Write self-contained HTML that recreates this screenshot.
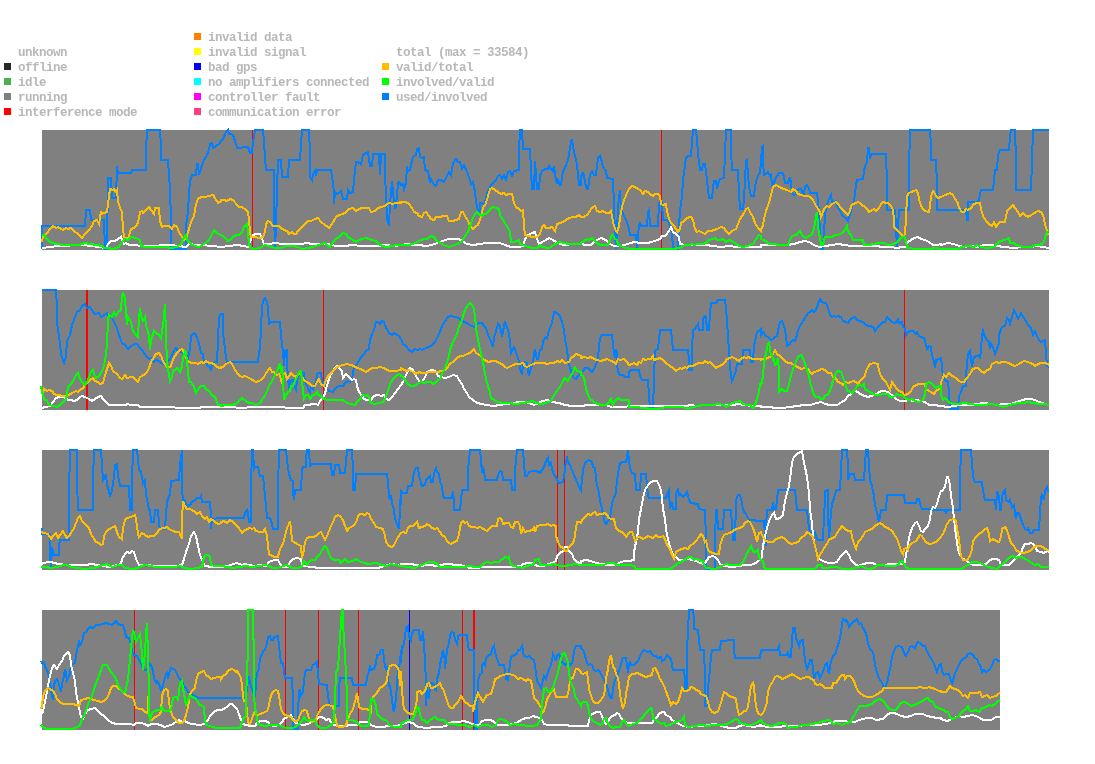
<!DOCTYPE html>
<html lang="en"><head><meta charset="utf-8"><title>status</title>
<style>
html,body{margin:0;padding:0;background:#fff;}
body{width:1095px;height:764px;position:relative;overflow:hidden;font-family:"Liberation Mono",monospace;}
.lg{position:absolute;left:0;top:0;width:1095px;height:125px;will-change:transform;}
.sq{position:absolute;width:7px;height:7px;}
.t{position:absolute;font:bold 12.5px/15px "Liberation Mono",monospace;color:#b8b8b8;white-space:pre;letter-spacing:-0.5px;}
svg{position:absolute;left:0;top:0;}
polyline{fill:none;stroke-width:2;stroke-linejoin:miter;stroke-linecap:butt;}
</style></head><body>
<div class="lg">
<span class="t" style="left:18px;top:46px">unknown</span>
<span class="sq" style="left:4px;top:63px;background:#282828"></span><span class="t" style="left:18px;top:61px">offline</span>
<span class="sq" style="left:4px;top:78px;background:#4caf50"></span><span class="t" style="left:18px;top:76px">idle</span>
<span class="sq" style="left:4px;top:93px;background:#808080"></span><span class="t" style="left:18px;top:91px">running</span>
<span class="sq" style="left:4px;top:108px;background:#ff0000"></span><span class="t" style="left:18px;top:106px">interference mode</span>
<span class="sq" style="left:194px;top:33px;background:#ff8000"></span><span class="t" style="left:208px;top:31px">invalid data</span>
<span class="sq" style="left:194px;top:48px;background:#ffff00"></span><span class="t" style="left:208px;top:46px">invalid signal</span>
<span class="sq" style="left:194px;top:63px;background:#0000ff"></span><span class="t" style="left:208px;top:61px">bad gps</span>
<span class="sq" style="left:194px;top:78px;background:#00ffff"></span><span class="t" style="left:208px;top:76px">no amplifiers connected</span>
<span class="sq" style="left:194px;top:93px;background:#ff00ff"></span><span class="t" style="left:208px;top:91px">controller fault</span>
<span class="sq" style="left:194px;top:108px;background:#ff4080"></span><span class="t" style="left:208px;top:106px">communication error</span>
<span class="t" style="left:396px;top:46px">total (max = 33584)</span>
<span class="sq" style="left:382px;top:63px;background:#ffbe00"></span><span class="t" style="left:396px;top:61px">valid/total</span>
<span class="sq" style="left:382px;top:78px;background:#00ff00"></span><span class="t" style="left:396px;top:76px">involved/valid</span>
<span class="sq" style="left:382px;top:93px;background:#0080ff"></span><span class="t" style="left:396px;top:91px">used/involved</span>
</div>
<svg width="1095" height="764" viewBox="0 0 1095 764" shape-rendering="crispEdges">
<rect x="42" y="130" width="1007" height="120" fill="#808080"/>
<rect x="252" y="130" width="1" height="120" fill="#ff0000"/>
<rect x="661" y="130" width="1" height="120" fill="#ff0000"/>
<polyline stroke="#0080ff" points="42,249 42,226 85,226 86,210 90,210 91,220 104,220 105,249 107,249 108,178 111,178 112,198 116,198 117,166 118,173 131,173 132,170 146,170 146,150 147,130 160,130 161,145 161,160 168,160 169,175 170,189 171,221 171,249 186,249 186,226 188,212 189,193 190,181 192,175 196,175 197,164 198,164 199,175 201,168 204,160 206,157 209,150 210,144 212,143 213,148 215,147 217,145 219,144 221,141 221,141 223,139 226,132 228,130 229,134 231,134 233,135 235,141 237,148 248,147 250,153 252,153 253,142 255,130 263,130 264,142 265,157 266,170 274,170 274,209 275,249 276,226 277,189 278,160 281,160 282,177 288,177 289,160 300,160 301,145 302,130 309,130 310,153 310,177 312,180 313,174 315,171 316,176 317,170 331,170 332,176 334,192 334,204 335,192 337,194 339,193 341,191 343,199 347,199 348,190 350,193 353,192 354,180 356,162 358,162 361,164 363,155 366,153 368,152 370,166 372,166 373,154 379,154 380,175 381,154 385,154 385,173 387,219 389,226 390,204 392,181 393,193 395,209 396,206 398,183 399,182 401,185 401,185 403,184 404,189 406,183 407,166 408,171 410,170 412,160 414,156 416,155 417,149 419,148 420,157 422,158 424,157 425,170 428,171 430,183 431,179 434,185 436,186 438,180 441,180 444,182 447,176 449,172 451,175 453,163 456,159 458,162 460,162 462,169 464,165 467,172 469,177 471,184 473,182 475,192 476,201 478,211 480,212 480,203 482,203 484,205 486,199 487,193 489,189 491,185 493,183 496,180 498,176 500,175 502,179 504,175 506,180 508,172 510,171 512,176 514,171 519,170 519,150 520,130 522,130 523,149 530,149 531,171 532,189 534,189 535,161 537,189 539,189 540,176 542,171 545,169 548,169 549,166 551,169 553,171 554,166 556,180 557,184 558,180 560,185 561,185 563,171 565,168 568,160 569,154 571,142 572,139 573,147 575,156 577,164 578,175 579,185 581,185 581,176 583,173 584,175 585,183 587,189 588,189 590,175 592,171 594,175 596,175 597,166 598,158 600,156 602,162 603,167 606,171 607,178 613,179 614,206 615,232 616,249 617,232 618,206 620,190 620,199 622,211 624,216 627,222 629,229 630,235 636,235 637,249 638,235 639,226 640,222 641,226 647,226 648,212 649,210 650,226 658,226 659,203 662,202 663,220 668,220 670,226 672,232 673,249 678,249 679,226 680,211 682,196 683,180 685,165 686,158 688,156 691,156 692,143 693,130 696,130 697,140 698,153 699,162 700,170 702,170 703,164 705,164 706,171 707,180 708,189 709,198 712,198 713,188 714,181 716,181 717,189 718,184 720,179 724,178 725,154 726,130 731,130 731,150 732,170 738,170 739,193 740,209 743,209 744,199 745,180 746,161 747,160 748,175 749,186 751,196 754,196 755,186 757,178 759,174 760,173 761,161 761,161 762,147 763,146 763,162 764,175 766,174 768,172 770,176 771,175 772,185 774,183 776,177 777,176 779,173 782,173 784,176 785,183 788,183 790,177 791,183 792,193 794,195 796,194 797,190 800,189 801,189 803,194 804,194 805,187 807,185 809,189 810,193 817,193 818,201 819,212 820,232 821,249 823,249 824,232 825,216 826,208 828,201 829,199 831,195 832,203 834,202 836,201 837,206 840,211 842,215 844,217 846,218 848,221 849,217 851,212 852,206 854,201 855,193 856,185 857,180 863,179 864,171 865,166 867,162 868,148 869,148 870,159 871,154 886,154 887,183 887,210 895,210 896,226 897,249 898,226 899,210 909,210 909,170 910,130 930,130 931,145 931,160 936,160 937,185 937,210 941,210 941,210 966,210 967,220 968,220 968,202 978,202 979,199 981,190 993,190 994,180 995,170 997,170 998,155 1000,150 1009,150 1010,137 1011,130 1015,130 1016,160 1016,190 1031,190 1032,160 1033,130 1049,130"/>
<polyline stroke="#ffffff" points="42,248 51,247 57,246 66,246 74,245 84,245 90,246 99,247 106,248 108,244 111,241 115,241 118,239 121,237 122,240 124,244 126,243 129,245 133,245 143,246 156,246 163,245 171,245 179,246 186,247 189,244 196,245 202,245 212,246 221,247 221,247 229,246 237,245 244,246 248,247 250,242 252,236 255,234 260,234 262,239 264,244 269,244 275,243 283,244 292,244 302,244 306,243 313,244 320,244 328,244 336,246 344,246 353,245 361,246 369,246 379,246 385,245 394,246 401,245 401,245 408,244 414,245 419,245 426,246 432,245 437,243 442,241 449,239 454,239 459,239 462,241 467,244 473,245 480,244 486,243 493,243 500,243 505,245 511,247 519,247 523,246 525,239 528,235 532,233 535,232 537,239 539,244 542,242 546,240 549,238 553,240 556,242 560,244 565,245 574,244 581,244 581,244 586,245 591,245 594,242 597,240 601,238 604,239 607,241 610,244 614,246 620,246 625,245 630,243 635,242 640,243 647,243 652,242 657,240 660,239 662,236 665,236 667,234 670,229 671,227 673,232 676,234 679,237 680,244 686,245 693,245 699,245 706,245 713,246 721,247 729,246 737,247 745,247 754,247 761,247 761,245 768,245 774,245 781,245 787,245 794,244 800,242 805,241 809,242 814,245 819,247 825,246 832,245 838,244 845,245 851,246 860,246 868,246 876,246 883,247 891,247 897,248 902,247 906,247 908,242 911,240 914,238 918,237 921,239 925,240 929,242 933,245 937,245 941,244 941,245 948,243 954,244 959,246 964,247 971,246 977,247 984,245 991,245 997,246 1004,247 1014,248 1022,247 1030,247 1037,246 1043,247 1049,248"/>
<polyline stroke="#ffbe00" points="42,242 43,236 46,234 51,228 53,226 56,228 58,227 61,229 63,230 66,228 68,229 71,228 74,231 78,234 82,238 85,234 89,230 92,226 94,221 97,220 99,224 101,211 102,214 104,213 107,212 108,204 110,189 113,190 114,189 116,192 117,190 118,201 120,208 122,212 123,229 124,237 126,238 128,239 130,232 131,229 134,228 136,226 138,223 140,212 142,211 143,213 145,211 148,208 149,207 151,210 154,214 155,208 157,208 159,208 160,221 162,227 164,226 167,226 169,226 172,229 174,225 177,227 179,232 182,237 184,240 186,239 189,229 191,222 194,216 196,204 198,199 201,197 205,197 209,196 213,195 215,198 218,203 221,201 221,200 224,200 227,201 230,199 233,200 237,205 239,207 242,207 246,210 248,212 249,219 250,232 251,237 254,237 260,238 263,237 265,232 266,224 268,221 270,222 273,226 276,226 279,226 281,228 284,230 287,231 289,234 292,232 294,234 296,234 298,231 302,227 305,224 308,221 311,221 315,219 318,218 321,222 325,225 328,227 329,228 332,224 336,217 339,215 343,214 346,212 349,209 353,208 356,211 359,209 362,208 366,208 369,208 371,212 375,211 378,208 381,207 385,206 387,204 389,203 393,204 395,203 398,203 401,202 401,203 403,202 406,202 409,204 412,208 414,212 417,213 419,216 422,217 424,213 426,212 429,216 431,219 434,220 436,217 440,217 443,216 447,216 449,221 453,221 456,220 459,219 461,212 463,212 465,216 468,221 470,226 473,229 476,226 478,225 481,217 483,208 486,203 488,196 490,189 492,188 495,190 498,192 501,194 504,193 506,195 509,194 512,194 514,203 516,207 519,209 521,211 523,210 524,226 525,235 528,236 533,237 537,237 540,234 542,227 544,225 546,228 549,228 552,227 555,231 557,224 560,223 563,222 566,220 569,218 573,217 576,217 579,215 581,217 581,217 584,217 588,214 591,209 593,207 595,206 597,211 600,212 603,211 606,213 609,213 611,211 612,216 614,226 616,231 617,232 619,226 621,212 623,203 625,198 627,193 629,189 632,186 635,187 638,189 640,190 643,194 645,191 648,192 650,194 653,196 655,194 658,194 660,196 661,204 663,205 666,204 667,211 669,219 671,223 674,226 676,229 678,232 680,229 681,223 684,221 686,219 689,217 691,217 693,220 695,229 697,232 699,231 703,233 705,234 708,231 711,231 714,230 717,229 721,227 724,228 726,231 729,234 732,231 736,229 738,224 740,219 744,213 746,209 748,208 750,212 753,217 755,223 758,228 761,231 761,229 763,226 764,219 766,211 768,206 770,199 772,191 773,187 776,185 778,186 781,188 784,189 787,190 791,192 793,189 796,191 798,194 801,195 805,196 808,196 810,197 813,200 815,204 818,209 820,212 821,217 823,212 824,209 827,206 829,207 832,204 834,203 836,202 838,204 841,208 843,210 846,213 848,215 850,211 851,206 853,204 856,203 858,202 860,203 862,205 865,207 867,209 869,212 872,210 874,209 876,211 879,208 881,204 883,202 886,203 888,203 891,206 893,210 894,219 894,227 897,230 899,232 902,235 904,236 905,234 906,219 907,196 909,193 911,192 914,191 916,190 918,193 919,199 921,206 923,209 925,211 929,212 930,206 931,196 933,191 934,192 936,196 938,198 941,197 941,197 945,195 948,194 950,193 953,195 955,199 958,203 959,208 962,212 964,212 966,209 968,210 971,208 974,204 977,203 980,203 981,209 983,216 986,221 989,224 992,226 994,222 996,227 998,224 1000,222 1003,222 1005,222 1007,211 1010,208 1013,205 1015,208 1018,212 1020,216 1023,213 1025,215 1028,217 1031,215 1033,214 1036,212 1038,211 1041,212 1043,215 1045,224 1047,231 1048,235"/>
<polyline stroke="#00ff00" points="42,235 44,235 47,239 50,242 56,244 64,245 71,245 79,245 85,243 90,244 97,245 102,246 104,248 108,248 113,249 119,247 122,242 125,239 128,240 131,237 136,238 140,240 141,246 146,247 156,247 166,247 171,248 177,247 181,244 183,239 186,235 187,240 190,243 192,245 199,247 204,244 209,240 212,234 214,230 217,233 221,235 221,235 223,236 226,239 228,241 231,239 233,237 236,235 239,235 242,232 244,227 246,225 247,224 248,232 249,245 251,248 254,249 260,248 265,245 269,246 274,248 280,248 287,246 293,246 298,247 302,249 308,248 313,247 318,245 322,244 325,243 327,245 330,247 333,242 336,239 339,237 342,234 343,233 346,234 348,237 351,239 353,240 356,242 359,240 362,239 366,238 369,239 372,240 376,241 379,244 382,246 387,247 392,246 397,245 401,245 401,245 408,245 413,244 417,242 421,240 424,239 427,239 431,236 434,237 436,240 440,243 444,245 449,247 454,245 458,244 462,241 465,236 468,232 470,226 473,218 475,214 477,212 479,214 482,216 484,214 486,214 489,211 491,208 494,207 496,208 499,209 500,215 503,220 505,223 508,228 510,232 511,242 514,242 519,240 520,244 523,245 528,247 533,248 537,248 540,245 542,247 549,248 554,245 557,243 560,242 564,243 569,244 575,244 581,244 581,243 584,241 587,239 589,240 592,238 594,240 597,243 600,245 604,245 608,245 610,240 612,235 613,235 615,239 617,240 618,245 621,246 625,248 632,249 647,249 663,249 673,249 680,248 685,245 689,245 692,244 694,245 698,244 703,244 706,243 709,240 713,239 715,238 717,240 720,240 723,239 726,242 729,240 732,241 736,244 739,246 743,247 747,246 750,245 754,243 756,239 759,235 761,236 761,239 763,240 766,241 769,244 774,244 779,245 784,245 788,245 790,240 792,236 796,235 798,233 800,231 802,235 804,237 806,238 809,236 811,235 813,232 815,224 816,216 817,212 818,226 819,234 820,237 821,245 823,245 824,240 825,237 828,237 832,237 835,235 838,235 842,233 844,231 846,229 847,226 848,231 850,234 851,235 853,240 863,240 864,245 869,245 874,244 879,243 884,243 888,245 894,244 897,242 899,240 902,237 904,237 906,240 907,248 917,249 930,249 935,248 941,249 941,249 958,249 961,247 969,246 974,247 977,245 981,247 987,248 994,247 997,244 1000,241 1005,240 1009,238 1010,243 1014,243 1016,245 1023,247 1032,247 1035,245 1040,245 1043,243 1045,239 1046,234 1048,231"/>
<rect x="42" y="290" width="1007" height="120" fill="#808080"/>
<rect x="86" y="290" width="1" height="120" fill="#ff0000"/>
<rect x="87" y="290" width="1" height="120" fill="#ff0000"/>
<rect x="323" y="290" width="1" height="120" fill="#ff0000"/>
<rect x="904" y="290" width="1" height="120" fill="#ff0000"/>
<polyline stroke="#0080ff" points="42,290 56,290 57,307 57,323 59,336 61,353 62,358 64,363 66,356 67,341 70,335 72,325 75,317 77,312 80,310 82,306 85,304 87,308 90,307 93,312 95,314 99,313 101,317 103,316 107,313 109,316 112,318 114,322 117,328 119,335 122,343 125,345 128,349 131,346 135,344 137,344 140,348 143,351 146,356 149,359 151,358 154,362 156,360 159,361 161,363 163,364 166,363 168,361 171,358 173,352 176,348 178,351 181,352 183,353 186,354 188,358 190,349 191,336 194,333 196,335 199,343 201,353 203,354 204,363 206,363 208,366 210,367 211,371 212,363 217,362 218,341 219,317 221,314 221,314 223,314 223,333 225,349 226,358 227,362 258,362 259,353 260,348 261,328 262,307 263,301 265,298 267,302 268,308 269,325 270,322 280,322 281,335 282,345 283,351 284,366 285,351 287,350 287,366 288,376 289,389 290,381 293,380 294,386 296,390 297,381 298,376 301,373 302,372 304,373 305,382 307,386 309,391 310,392 311,386 313,389 314,386 316,382 317,374 319,373 321,373 322,381 324,384 326,389 329,391 333,392 334,390 337,387 339,386 343,386 345,383 348,381 350,382 352,381 353,371 355,367 357,364 360,359 362,356 364,354 366,351 369,349 370,340 372,334 374,330 376,322 378,322 380,324 382,321 384,322 385,326 387,329 389,333 392,335 394,333 397,335 399,336 401,339 401,339 403,344 406,346 409,350 412,352 415,349 417,350 420,349 422,350 426,348 429,347 432,345 435,342 437,338 440,332 442,326 445,321 448,317 451,316 455,317 459,318 462,321 465,322 468,324 472,326 474,327 477,324 479,323 482,323 484,326 486,328 488,335 491,341 493,347 494,338 496,331 498,324 500,326 502,337 503,331 505,321 507,328 509,333 510,343 511,353 514,347 515,349 517,356 519,361 520,368 522,375 523,364 525,362 527,363 528,371 529,376 531,368 533,362 534,354 535,349 537,359 538,359 540,350 542,349 543,341 546,337 547,338 549,330 551,326 553,318 554,312 557,313 560,316 562,322 564,330 565,340 567,349 568,359 570,368 572,374 574,378 576,379 578,376 581,372 581,372 583,371 585,368 588,368 590,370 592,372 594,369 596,364 598,359 599,346 600,338 602,335 612,335 613,344 614,353 615,358 616,349 617,353 617,364 618,372 620,375 623,375 625,377 629,377 629,372 631,370 639,370 640,376 642,380 648,380 649,395 650,409 653,409 654,379 655,351 656,350 658,349 659,340 660,330 671,330 672,340 673,350 688,350 689,359 689,370 692,370 692,349 693,330 695,329 697,326 698,324 699,330 703,330 703,319 705,316 706,317 707,330 709,330 710,313 711,303 716,303 718,300 725,300 726,308 727,322 728,335 729,353 730,366 731,376 732,381 734,376 736,371 737,364 742,364 743,350 750,350 751,362 753,362 754,344 755,343 756,335 758,331 759,331 761,329 761,335 763,332 766,336 768,337 771,340 773,339 775,337 777,336 779,326 780,322 782,321 784,326 786,335 787,346 789,345 791,342 793,340 795,341 797,335 798,330 800,326 803,321 805,318 808,313 810,312 812,310 814,312 816,310 818,304 820,299 822,302 824,303 826,303 828,308 830,315 832,317 834,316 836,317 838,316 841,317 843,321 846,322 848,323 850,320 852,318 855,317 857,320 860,321 863,322 866,325 869,326 871,326 874,328 875,331 878,327 880,325 883,322 885,322 887,317 889,319 892,322 894,323 897,322 898,318 899,323 902,322 903,327 905,328 906,335 908,332 911,331 913,331 916,334 917,332 919,336 921,337 924,338 925,341 927,349 929,346 931,347 932,356 934,361 935,368 936,360 939,359 941,358 941,358 942,366 943,377 945,380 948,382 949,392 950,409 958,409 959,396 961,392 963,386 966,386 966,376 967,364 968,354 970,351 971,359 972,367 973,361 974,357 977,356 979,355 980,359 981,349 982,336 983,331 985,337 987,340 989,342 990,349 991,344 993,347 995,354 997,349 999,343 999,335 1000,332 1002,327 1005,326 1007,318 1009,320 1010,324 1012,317 1014,310 1016,314 1018,319 1021,313 1023,317 1026,321 1028,325 1031,328 1033,335 1035,331 1037,336 1039,340 1041,342 1043,341 1045,340 1046,354 1047,366 1049,367"/>
<polyline stroke="#ffffff" points="41,408 46,407 50,406 53,402 56,398 59,397 62,397 66,398 68,400 71,400 74,401 77,400 80,397 82,396 85,397 89,399 92,401 95,399 98,397 101,396 103,399 106,402 109,405 115,405 122,405 126,405 127,404 131,405 138,405 140,407 156,407 169,407 181,408 196,408 205,407 221,407 221,407 231,407 241,408 254,407 267,407 279,407 290,408 303,408 305,405 308,405 313,404 316,404 318,405 320,401 323,397 325,394 326,389 328,382 330,376 333,371 335,368 337,366 339,368 342,371 343,378 346,374 348,376 350,378 352,380 354,379 356,380 357,386 359,392 362,396 364,399 367,400 371,400 373,397 376,395 379,395 381,396 384,395 386,399 389,400 392,397 395,393 398,389 401,385 401,385 403,382 405,377 408,371 410,368 413,370 415,374 417,378 420,382 422,382 425,377 427,372 431,370 433,370 436,372 438,376 441,377 445,378 449,377 453,375 457,376 459,380 462,384 464,389 467,393 469,397 473,400 477,403 482,404 486,405 493,406 500,405 506,404 513,403 519,402 525,402 529,403 534,405 539,403 542,401 548,400 552,402 559,403 565,405 572,406 581,406 581,406 588,405 597,405 606,405 611,407 617,407 624,407 630,406 640,406 650,406 663,406 676,406 686,406 691,405 696,406 706,405 716,405 726,405 732,405 739,404 744,405 752,406 761,406 761,407 769,407 776,408 782,408 790,407 797,406 804,405 810,405 817,403 821,402 825,404 830,405 837,405 842,402 845,400 848,396 851,394 854,391 856,391 859,393 862,395 865,396 868,397 871,396 874,395 878,393 881,391 884,391 888,392 893,396 896,399 900,401 904,401 909,400 913,401 917,400 921,401 925,402 929,405 934,405 941,406 941,406 948,407 954,406 959,405 964,405 971,405 977,404 984,403 991,404 997,405 1004,404 1010,404 1017,402 1022,400 1027,399 1032,399 1037,401 1042,403 1049,405"/>
<polyline stroke="#ffbe00" points="41,393 43,392 44,389 47,391 49,390 52,391 54,394 57,395 59,395 62,396 66,396 69,395 72,393 76,391 78,392 80,390 83,388 85,385 88,382 90,380 93,378 95,381 98,382 100,384 103,383 104,379 106,372 108,366 109,363 111,366 113,371 117,374 120,378 122,379 125,375 127,378 131,377 133,377 136,380 138,382 140,377 142,376 145,374 147,372 149,368 151,362 154,357 156,354 159,353 161,356 163,361 166,366 168,368 171,366 173,359 175,356 177,353 180,350 182,349 184,352 186,358 189,362 192,363 196,363 198,364 201,362 204,363 206,361 209,363 211,363 214,364 216,366 219,368 221,368 221,367 223,367 226,364 228,363 230,362 232,364 234,368 237,373 240,376 242,377 245,376 247,377 251,379 254,381 256,382 259,381 261,380 264,377 266,373 269,369 270,368 272,372 274,372 277,375 279,374 281,379 282,384 283,374 285,373 287,379 289,376 291,373 293,375 296,377 297,376 300,373 302,377 305,381 307,382 310,384 312,386 315,386 317,382 319,379 321,384 324,386 325,382 327,378 329,375 333,371 336,368 339,366 343,365 347,364 351,365 354,366 357,368 361,369 364,371 366,372 369,370 372,368 376,368 380,367 384,368 387,370 390,371 395,371 401,370 401,368 403,369 406,371 409,370 413,372 416,374 419,372 422,373 426,373 430,372 434,372 438,372 441,371 445,370 447,368 450,364 454,361 457,358 460,356 463,356 467,354 470,353 473,350 474,349 476,353 478,354 481,356 483,359 486,361 489,362 492,361 496,361 499,363 502,364 505,367 507,368 509,367 513,365 516,364 519,364 523,363 525,366 527,367 529,366 533,364 536,363 540,363 544,363 547,364 551,363 554,363 557,361 560,362 562,360 565,363 569,362 571,358 574,356 576,354 579,355 581,356 581,358 584,357 588,358 591,357 594,359 597,360 601,361 604,360 607,359 611,361 614,362 616,364 618,359 620,360 624,359 627,362 629,365 632,364 634,363 637,365 639,362 641,363 643,359 646,360 648,359 651,359 653,356 654,360 657,359 660,358 663,360 666,363 670,366 673,368 676,371 680,368 682,369 685,367 687,368 689,366 693,366 696,364 699,363 703,363 705,361 708,363 710,362 713,365 716,368 719,366 722,365 725,362 727,359 730,358 732,357 736,359 739,361 741,359 744,357 746,358 749,357 752,359 755,359 759,359 761,359 761,360 763,359 766,359 769,357 772,356 774,352 775,350 777,354 780,356 782,358 785,361 788,363 791,363 795,366 798,367 801,369 805,368 808,369 810,372 812,374 814,372 818,371 821,369 823,369 826,371 828,373 831,373 833,377 836,379 838,382 841,383 843,385 846,382 848,383 851,382 853,381 856,382 858,384 860,381 863,378 865,376 866,371 868,367 870,364 874,363 878,364 879,371 881,376 883,379 886,382 888,386 890,390 892,382 894,385 897,389 899,391 902,392 904,395 906,395 909,393 911,391 913,387 916,385 919,384 922,384 925,384 926,389 929,391 931,392 934,394 936,391 939,389 941,388 941,382 943,378 944,375 946,377 949,373 951,375 954,377 956,378 959,381 961,382 964,382 966,379 968,377 971,372 973,369 976,368 978,368 981,371 984,373 987,370 990,369 992,364 996,362 999,363 1002,362 1005,362 1009,363 1012,365 1015,366 1019,364 1022,362 1024,361 1028,362 1030,363 1033,364 1035,366 1038,364 1041,363 1043,363 1046,363 1049,365"/>
<polyline stroke="#00ff00" points="41,386 42,392 44,399 47,401 49,405 53,406 57,407 60,405 63,402 66,399 68,387 71,384 73,381 76,375 78,373 80,379 82,382 85,385 87,382 89,377 91,372 93,370 94,374 96,378 99,376 101,373 103,369 105,361 107,345 108,320 109,315 112,317 114,312 116,316 118,312 121,310 122,297 123,292 125,299 126,313 127,325 128,317 131,322 133,331 136,335 138,337 139,318 140,308 141,316 143,321 145,317 146,325 149,335 150,350 151,340 154,331 156,333 159,335 161,338 163,325 164,317 165,304 166,335 167,364 168,369 170,381 172,377 173,371 176,369 177,368 180,372 182,366 183,358 185,351 186,352 188,372 189,382 191,382 194,387 196,393 199,388 201,386 204,386 206,389 209,391 212,395 215,397 218,405 221,405 221,406 226,405 231,405 236,404 239,401 242,398 246,401 249,403 252,403 256,405 260,403 262,400 265,395 267,391 269,386 272,381 274,377 277,371 279,366 280,363 281,374 282,366 283,382 284,400 286,395 288,392 290,391 291,386 293,386 295,381 297,377 299,372 301,371 302,381 303,391 304,399 306,395 308,395 310,399 312,396 315,394 317,392 318,395 321,396 324,399 328,400 333,400 338,400 343,400 347,403 351,404 355,405 357,402 360,399 363,395 365,396 367,395 369,397 371,403 375,404 379,403 383,402 385,399 387,394 389,387 391,382 394,378 396,376 399,374 401,375 401,376 403,377 405,380 408,384 411,386 414,386 417,384 421,382 424,383 427,382 431,382 433,384 436,382 438,380 440,379 442,374 445,368 447,363 449,356 450,350 452,344 454,340 457,334 459,326 461,323 463,316 465,310 468,305 470,303 472,305 474,309 475,316 476,328 478,340 480,349 482,358 484,368 486,379 489,389 491,398 494,400 498,402 503,403 509,403 516,404 523,403 528,402 533,401 536,403 541,404 546,403 551,401 553,397 556,392 560,387 563,381 565,378 568,381 570,377 573,372 575,367 577,371 581,372 581,375 583,376 585,382 586,389 588,395 590,399 593,401 597,404 602,405 606,405 609,402 611,399 613,405 615,401 618,398 621,400 624,400 629,400 629,407 637,407 643,408 650,409 658,409 666,407 676,407 683,407 688,409 693,407 698,406 703,405 708,405 713,405 718,404 724,405 726,407 729,405 732,403 736,402 740,401 743,404 747,405 750,405 753,408 755,405 757,399 759,392 760,384 761,382 761,386 763,376 764,363 766,353 768,344 769,343 771,356 772,353 773,361 774,358 775,366 777,361 778,358 779,372 779,392 782,389 784,391 787,391 789,384 791,376 793,369 795,364 797,359 799,356 801,355 803,358 805,364 807,370 809,376 810,382 812,389 814,395 816,397 819,397 821,399 823,399 825,396 828,394 830,391 832,384 834,378 836,373 838,371 841,372 842,374 844,381 846,386 847,390 850,392 852,393 855,390 857,386 860,385 862,386 864,384 865,389 868,391 870,392 873,394 876,395 879,395 883,394 888,394 890,397 893,397 895,396 897,394 899,395 902,395 904,397 906,399 909,400 912,399 915,401 919,402 923,400 925,394 926,386 927,383 929,382 932,384 934,386 936,388 939,386 941,386 941,395 943,400 945,398 948,401 950,403 954,404 959,404 964,403 971,404 977,405 984,405 991,404 997,405 1004,407 1009,405 1014,404 1019,403 1023,403 1028,402 1033,403 1040,404 1045,404 1049,405"/>
<rect x="42" y="450" width="1007" height="120" fill="#808080"/>
<rect x="557" y="450" width="1" height="120" fill="#ff0000"/>
<rect x="564" y="450" width="1" height="120" fill="#ff0000"/>
<polyline stroke="#0080ff" points="42,528 42,534 50,534 50,552 51,569 52,547 54,555 59,555 59,546 60,540 69,540 69,495 70,450 77,450 77,480 78,510 93,510 93,480 94,450 101,450 102,465 103,480 105,477 106,474 107,485 109,491 110,497 112,490 114,477 115,465 117,464 118,475 120,486 129,486 130,510 132,510 132,480 133,450 137,450 138,460 139,470 141,472 143,483 144,481 145,480 146,495 148,504 149,510 150,510 151,522 154,522 155,510 158,510 159,524 160,529 165,529 166,513 167,503 168,498 170,495 171,481 179,480 180,465 182,450 182,480 183,509 184,500 186,503 187,506 190,505 192,502 195,500 197,498 200,498 201,496 202,502 210,502 211,516 211,529 212,519 221,518 221,518 244,518 245,513 247,510 248,513 249,522 251,522 251,486 252,450 253,450 254,469 255,467 258,467 260,476 263,476 264,486 265,495 266,506 267,518 270,518 272,524 273,529 278,529 278,490 279,450 286,450 287,460 288,467 289,474 291,480 293,481 293,491 294,500 295,490 301,490 302,470 303,467 306,467 306,459 307,450 309,450 310,467 311,464 331,464 332,475 334,475 335,465 339,465 340,473 345,473 346,462 347,450 352,450 353,470 353,490 355,490 356,474 387,474 388,482 389,495 390,500 391,495 392,503 394,510 395,519 397,524 399,529 400,509 401,490 401,505 401,491 403,493 407,493 408,486 412,486 413,478 414,472 416,468 418,468 419,476 421,483 422,486 425,485 426,480 428,478 430,476 431,482 433,482 434,473 436,468 437,472 439,474 440,482 442,486 443,495 444,498 452,498 453,491 454,503 454,510 460,510 461,500 462,490 468,490 468,470 470,450 480,450 481,460 482,473 483,468 484,470 485,480 497,480 498,475 500,471 502,472 503,480 511,480 512,490 515,490 515,470 517,450 523,450 524,463 525,476 527,476 529,472 533,471 536,471 539,472 540,473 542,470 544,467 546,461 548,458 549,465 551,463 552,469 554,475 556,477 557,480 559,483 563,482 565,470 566,461 567,458 568,462 570,465 572,470 574,475 577,482 579,487 581,490 581,488 582,480 583,470 585,463 587,461 589,460 592,462 593,467 595,468 596,478 597,485 599,493 600,501 602,509 603,514 605,523 606,524 608,521 610,519 611,509 613,500 616,493 617,480 619,468 620,463 623,462 626,462 627,457 628,450 629,462 630,468 632,473 635,474 636,490 640,490 641,474 646,474 647,486 648,496 649,498 666,498 668,492 669,490 670,509 672,502 673,509 676,509 676,495 678,488 679,495 680,494 683,497 685,495 687,492 689,500 691,503 698,504 699,509 705,510 706,539 706,569 715,569 715,539 716,510 717,510 718,529 723,529 724,510 731,510 732,526 733,540 735,540 736,500 738,495 740,495 742,503 743,510 745,513 746,514 748,518 749,520 754,520 757,521 761,521 761,521 764,521 765,534 766,546 766,526 767,510 772,510 773,502 774,509 776,509 777,500 778,490 795,490 796,500 797,510 807,510 808,519 809,528 810,532 815,532 816,537 818,540 823,540 824,516 825,500 825,491 828,490 828,513 829,538 830,526 831,513 832,504 834,498 836,491 837,490 840,490 841,470 842,450 847,450 848,465 848,480 850,474 854,474 855,480 864,480 865,465 866,450 868,450 869,465 870,480 872,486 874,496 875,505 877,513 879,522 880,516 881,510 886,510 887,495 904,495 905,503 916,503 917,499 919,499 920,504 922,509 941,510 941,510 945,510 946,514 947,510 960,510 960,480 961,450 971,450 972,463 973,477 975,482 982,482 983,491 985,500 995,500 996,510 997,491 999,496 1000,510 1001,510 1002,496 1004,491 1005,490 1006,500 1009,502 1010,500 1012,507 1014,505 1015,513 1016,519 1017,513 1019,513 1021,519 1023,525 1025,529 1027,530 1028,528 1030,533 1032,533 1034,530 1039,530 1040,513 1041,498 1042,495 1044,500 1045,491 1047,487 1048,491 1049,491"/>
<polyline stroke="#ffffff" points="41,564 44,563 48,562 51,562 54,563 59,564 67,565 77,565 85,565 92,564 97,565 103,566 110,567 117,565 121,564 122,559 125,554 127,552 130,553 132,551 134,552 136,559 139,565 146,565 156,566 166,566 176,566 182,565 184,559 186,552 189,544 191,536 194,532 196,536 198,546 200,555 203,562 205,566 212,567 221,567 221,567 228,566 233,564 237,563 242,565 244,564 249,565 254,566 260,565 266,566 269,562 274,560 278,560 280,564 283,567 288,567 290,562 293,559 297,558 301,559 302,565 305,566 311,567 320,568 336,568 353,568 369,568 377,568 382,567 387,565 392,564 397,565 401,566 401,564 406,564 411,564 416,565 421,566 426,565 431,565 436,566 440,565 447,564 450,564 455,565 460,565 467,567 470,568 477,568 482,567 491,567 503,567 513,567 521,566 523,564 528,563 533,563 535,565 538,566 544,566 548,564 552,563 556,561 557,556 560,553 563,551 565,547 567,547 569,551 572,554 574,559 576,561 579,563 581,564 581,561 586,560 591,561 596,563 602,564 609,565 614,565 619,563 624,561 629,561 634,560 634,552 636,542 638,532 639,519 641,509 643,498 645,490 648,485 651,482 654,481 657,481 659,485 661,490 662,498 663,509 665,519 666,529 668,539 670,547 672,553 676,557 679,560 683,560 688,559 693,560 698,562 703,564 705,563 707,560 709,557 713,556 715,557 718,560 720,564 724,566 732,567 739,566 745,565 750,565 754,564 757,562 761,559 761,560 762,555 763,546 765,536 767,528 769,521 772,515 774,513 776,519 778,519 781,517 783,515 785,501 787,493 789,486 791,472 792,462 794,457 797,454 800,452 802,451 803,457 805,467 807,477 809,493 810,509 812,524 813,536 815,546 817,554 819,559 823,561 828,563 833,563 837,562 840,557 843,554 846,551 849,555 851,560 855,564 858,566 863,564 868,563 873,563 876,565 883,565 891,564 897,564 902,564 905,562 906,555 908,544 910,534 912,528 915,523 917,522 919,526 921,531 923,532 925,529 928,526 930,519 931,511 933,507 935,508 937,504 939,496 941,491 941,491 942,491 945,487 947,477 948,477 950,485 951,496 953,508 954,519 956,536 958,549 960,555 963,559 966,560 969,563 973,565 977,565 982,565 986,564 989,561 992,559 996,559 999,560 1001,565 1005,565 1009,565 1012,562 1015,559 1019,555 1021,553 1023,547 1025,544 1028,544 1031,543 1033,544 1036,548 1037,551 1041,552 1044,553 1047,551 1049,552"/>
<polyline stroke="#ffbe00" points="41,532 44,533 48,534 51,539 53,536 56,533 58,538 60,535 63,531 65,535 67,538 69,536 71,533 74,528 76,523 78,518 80,516 82,521 85,524 89,528 91,534 94,539 96,542 99,543 101,545 103,544 104,536 106,532 108,530 111,528 115,526 117,532 119,537 122,539 123,528 125,520 127,518 131,517 135,515 136,519 138,534 139,537 142,533 145,535 148,537 151,536 154,536 157,533 159,530 162,528 164,528 167,527 169,529 173,531 176,532 179,532 182,539 182,519 183,501 185,506 187,509 190,509 192,510 195,512 197,514 200,512 202,516 205,519 207,517 209,522 211,519 214,521 216,523 219,524 221,523 221,522 224,521 227,523 230,520 233,522 236,525 239,528 242,533 244,531 247,529 250,528 252,529 254,528 256,531 260,532 263,532 265,529 267,536 268,546 269,554 272,556 275,557 278,557 279,552 281,547 283,544 285,536 287,528 288,526 290,521 291,529 292,541 294,542 297,544 299,545 301,546 302,559 304,549 305,542 307,538 310,537 313,537 316,536 319,533 321,532 323,536 325,540 327,536 329,531 331,526 333,522 335,517 338,515 340,516 343,520 345,526 347,531 349,528 353,526 355,524 357,520 358,516 360,514 362,514 365,515 367,513 369,514 371,519 374,523 376,527 380,528 383,529 385,536 386,542 389,546 392,547 394,545 396,541 398,537 401,533 401,533 403,532 406,533 408,528 410,526 413,526 415,524 417,522 419,528 422,527 425,526 427,524 430,526 432,528 435,529 437,528 440,532 442,535 445,537 447,541 449,543 451,544 454,542 457,541 459,534 460,528 461,523 463,521 465,523 467,522 469,526 472,527 475,527 477,528 480,527 482,528 485,530 487,531 490,528 492,526 495,526 497,526 498,519 500,518 502,520 503,524 506,523 509,523 511,527 513,528 515,522 518,522 520,526 521,534 523,528 525,532 528,531 533,530 534,526 535,532 537,526 541,525 545,525 548,524 551,526 553,525 556,526 556,536 558,542 560,546 563,548 565,551 567,551 569,547 572,544 574,541 576,528 577,522 579,522 581,523 581,522 583,519 586,516 588,514 591,515 593,513 595,512 597,515 600,514 602,514 605,513 607,515 609,518 611,519 614,519 615,524 616,528 619,531 622,532 625,535 626,537 629,533 630,532 632,532 634,537 635,541 638,537 640,537 643,539 645,538 648,536 650,537 653,538 656,535 658,537 661,537 663,536 665,539 667,545 670,549 672,555 674,559 676,552 679,550 682,549 685,548 688,549 690,546 694,543 696,541 699,537 701,534 703,536 705,542 706,541 708,550 710,552 713,553 716,554 719,554 720,546 722,539 724,535 726,534 730,533 733,531 736,529 740,528 743,526 745,523 748,521 750,522 753,528 755,534 757,542 759,533 761,532 761,533 763,537 766,541 769,542 773,542 776,539 779,538 782,537 785,539 788,542 791,544 795,543 798,542 801,538 805,535 807,532 810,534 813,537 814,542 816,550 818,559 819,556 822,552 824,548 827,544 829,540 832,538 835,537 837,533 840,529 842,526 844,528 846,530 849,531 851,531 852,537 854,544 856,549 858,542 860,540 863,536 865,532 869,530 872,529 875,526 878,524 880,523 883,525 885,527 888,528 892,531 894,534 897,539 899,544 901,551 903,554 904,549 906,548 908,550 909,546 912,543 916,541 918,538 920,535 922,536 925,541 927,543 930,544 934,543 937,541 941,537 941,537 944,532 947,524 950,520 954,519 956,521 957,529 959,539 960,549 961,556 963,560 967,560 970,556 972,549 973,541 976,537 979,534 982,532 985,529 987,528 989,534 990,541 993,539 996,541 999,542 1001,537 1002,529 1005,527 1007,530 1009,537 1011,543 1014,546 1016,550 1019,552 1023,553 1028,552 1031,550 1034,547 1037,546 1041,546 1044,548 1047,550 1049,550"/>
<polyline stroke="#00ff00" points="41,567 46,567 51,568 57,567 64,565 68,565 71,567 77,568 85,569 94,568 100,566 104,565 107,564 110,566 113,567 118,565 122,565 125,568 133,569 138,568 141,566 146,565 150,566 156,567 163,567 173,567 181,566 184,568 191,569 197,568 202,567 203,562 204,557 206,555 208,555 210,557 211,565 215,566 221,566 221,566 228,567 233,568 239,567 246,566 252,567 259,566 265,565 269,566 272,568 278,568 283,566 287,565 290,567 293,568 299,568 302,566 304,561 306,563 307,565 310,561 312,560 315,560 317,557 320,554 322,550 325,546 327,548 329,554 331,558 334,560 339,560 341,563 343,561 345,559 348,562 353,561 356,559 359,561 364,563 369,564 376,563 382,565 387,566 391,564 395,565 401,566 401,566 408,567 415,568 419,566 422,565 426,563 430,562 434,562 437,564 440,567 447,567 455,567 463,567 470,566 475,567 480,567 482,565 485,563 487,562 491,563 495,562 499,562 501,560 504,558 505,557 508,558 509,557 510,563 513,566 519,567 523,568 526,566 531,565 534,564 535,560 539,559 540,565 544,565 549,565 554,564 557,565 561,566 565,566 570,565 575,564 581,565 581,565 586,565 591,565 597,565 604,565 608,563 614,563 617,565 624,565 630,565 634,566 636,569 647,569 660,569 670,569 673,567 676,565 680,562 683,561 686,559 689,557 691,557 694,560 696,559 699,560 702,561 704,564 706,568 714,569 718,568 722,566 726,564 731,565 736,565 740,565 743,562 745,558 747,553 749,550 751,546 752,549 754,552 757,551 758,550 759,557 761,560 761,560 763,561 764,566 765,569 786,569 814,569 816,568 818,565 821,565 823,568 827,568 832,567 837,567 842,569 851,569 856,568 858,567 861,566 865,568 869,569 874,568 877,565 881,565 888,566 894,566 898,565 900,562 902,561 904,564 906,567 909,569 925,569 941,569 941,569 962,569 964,567 968,565 972,562 976,562 980,563 984,565 988,567 993,568 997,569 1000,566 1004,563 1007,560 1010,557 1013,556 1016,558 1019,557 1022,557 1025,559 1029,561 1033,564 1035,565 1038,564 1041,567 1045,567 1049,567"/>
<rect x="42" y="610" width="958" height="120" fill="#808080"/>
<rect x="134" y="610" width="1" height="120" fill="#ff0000"/>
<rect x="285" y="610" width="1" height="120" fill="#ff0000"/>
<rect x="318" y="610" width="1" height="120" fill="#ff0000"/>
<rect x="358" y="610" width="1" height="120" fill="#ff0000"/>
<rect x="409" y="610" width="1" height="120" fill="#0000ff"/>
<rect x="462" y="610" width="1" height="120" fill="#ff0000"/>
<rect x="473" y="610" width="1" height="120" fill="#ff0000"/>
<rect x="474" y="610" width="1" height="120" fill="#ff0000"/>
<polyline stroke="#0080ff" points="41,661 43,664 44,663 46,669 48,672 49,678 51,689 52,696 53,700 54,686 55,681 57,679 59,684 61,692 62,684 64,676 65,669 66,673 67,680 69,676 70,673 71,665 73,664 75,663 76,656 77,650 79,642 80,645 82,642 84,633 86,632 88,629 90,627 93,628 96,625 99,625 103,624 106,623 109,624 112,625 114,623 116,621 118,624 121,625 123,625 125,632 126,637 129,638 131,645 132,651 134,655 137,656 139,660 141,663 143,669 145,670 148,669 149,663 151,665 153,671 154,678 156,683 157,681 159,684 161,690 162,689 164,681 166,674 167,673 168,679 169,673 171,668 173,669 175,670 177,674 179,678 182,681 184,686 186,688 188,692 191,693 193,695 196,697 199,698 221,698 221,698 242,698 246,698 247,686 249,676 250,684 252,689 254,694 255,697 256,684 257,673 259,669 260,658 262,655 263,651 265,650 267,643 268,637 270,636 271,640 273,640 274,637 278,636 279,645 280,655 281,663 283,663 284,671 285,678 292,678 293,699 293,729 298,729 298,712 299,692 300,689 301,695 303,692 304,681 305,673 306,670 311,670 313,665 315,664 317,662 318,673 319,684 327,685 328,696 329,702 330,706 339,706 339,689 340,678 352,678 353,685 366,685 367,678 369,671 370,665 371,670 374,669 376,663 377,655 379,655 381,650 383,650 384,660 386,670 387,666 388,678 389,686 390,686 392,699 393,709 394,712 396,699 397,684 398,669 400,663 401,650 401,663 402,645 403,648 405,637 406,628 408,626 409,637 411,640 412,633 414,630 419,630 420,640 422,640 423,631 424,646 425,660 426,683 426,706 427,686 428,696 429,699 430,686 431,683 433,683 435,689 436,690 437,679 439,673 440,665 442,655 443,650 445,660 445,669 446,660 447,650 449,643 450,635 452,632 454,633 455,640 457,644 458,636 460,635 467,635 468,646 469,650 474,650 474,689 475,729 477,729 477,702 478,681 480,674 482,673 482,665 484,663 485,665 486,658 488,656 491,654 492,649 494,646 495,651 496,656 498,661 499,665 504,665 505,671 506,679 508,680 509,673 510,663 511,657 514,655 517,654 518,650 520,650 522,646 523,651 524,656 527,657 529,656 532,659 534,660 536,673 537,681 539,684 541,688 542,684 544,676 546,679 547,675 549,669 551,665 553,654 555,658 556,661 557,655 559,654 561,660 563,663 565,665 568,663 571,665 573,660 574,650 576,646 578,646 581,646 581,648 583,650 585,655 586,660 588,665 590,664 592,665 594,670 596,671 598,670 600,672 602,676 604,680 606,684 608,689 609,695 611,698 612,698 613,688 615,680 617,676 618,673 620,668 622,660 623,658 626,658 627,665 628,673 629,666 630,661 631,665 634,665 636,663 638,661 640,656 642,652 644,650 646,651 648,652 650,651 652,654 654,656 656,656 658,658 661,657 662,661 665,659 667,655 669,657 671,659 672,665 673,670 684,670 685,679 685,689 687,689 687,650 689,610 693,610 694,620 694,629 698,630 699,640 700,650 704,650 705,678 705,706 708,706 708,688 710,669 711,656 712,650 720,650 721,641 734,640 734,650 735,658 760,658 761,650 761,653 762,650 777,650 779,646 780,655 787,655 788,651 789,657 791,657 792,640 793,628 795,628 796,638 797,641 799,646 800,641 803,640 804,651 805,661 807,669 809,664 810,660 812,660 813,669 814,679 816,673 818,672 820,678 822,674 824,669 825,665 827,663 828,669 829,674 830,666 832,658 834,655 836,653 837,648 839,642 841,633 842,623 843,619 845,621 846,620 848,623 849,627 851,624 853,622 856,620 857,619 859,624 861,623 863,628 865,631 867,637 868,644 870,649 872,651 874,656 875,665 877,673 879,678 882,683 884,688 886,686 888,679 889,673 891,665 892,656 894,651 896,647 898,646 902,647 904,653 906,656 908,652 910,647 912,646 915,648 916,645 918,642 920,643 923,646 925,646 927,651 929,655 932,660 934,664 936,669 937,672 939,665 941,664 941,665 942,671 944,675 946,674 949,674 950,678 952,683 954,677 955,673 957,669 959,665 961,661 963,659 966,657 968,654 970,653 973,655 975,658 977,659 979,664 981,667 982,672 984,670 986,672 988,671 990,669 992,665 994,660 996,659 998,661 1000,661"/>
<polyline stroke="#ffffff" points="41,714 43,712 44,706 46,697 48,686 50,676 52,668 54,665 57,669 59,665 62,661 64,656 66,654 68,652 70,655 71,665 73,673 75,681 76,692 78,702 80,712 81,717 83,719 85,714 88,710 91,709 95,708 98,711 101,714 104,716 108,720 112,723 117,724 123,724 130,724 134,725 136,723 141,723 145,724 148,726 151,724 156,724 161,725 164,727 168,726 173,724 177,721 179,720 182,722 185,721 188,723 192,724 199,725 205,724 208,720 210,716 213,713 215,711 218,710 221,710 221,710 224,709 228,706 230,704 232,704 234,706 237,709 239,714 241,720 243,724 246,725 251,726 255,726 257,723 260,721 265,721 268,722 270,725 275,726 279,725 282,722 284,719 287,717 289,716 291,715 293,719 296,723 299,724 303,725 308,724 312,722 316,720 319,717 321,717 324,718 326,720 329,719 331,722 334,725 338,726 344,726 351,725 357,725 360,722 364,722 368,722 371,725 376,727 382,727 389,726 395,726 401,725 401,725 403,724 408,722 413,723 416,726 419,727 427,728 434,727 440,727 446,726 449,723 454,722 459,722 463,721 468,722 472,724 475,725 479,725 482,721 486,720 491,720 494,722 497,725 503,725 508,725 513,724 518,722 521,720 523,719 526,718 529,718 533,716 536,717 540,718 542,720 544,724 548,725 554,725 559,725 565,725 572,726 581,726 581,726 588,726 589,720 591,715 594,713 597,712 600,712 602,716 604,722 606,724 608,721 610,718 612,716 615,715 617,713 619,714 621,718 624,721 627,723 634,723 640,723 647,723 652,723 654,720 657,717 659,714 662,712 664,712 666,715 670,717 672,720 676,722 679,724 683,726 689,727 696,726 703,726 709,725 714,724 719,725 724,727 731,728 736,728 739,726 744,725 749,726 754,727 758,726 761,725 761,726 769,727 777,727 787,726 797,726 807,725 817,725 827,724 832,722 837,721 843,721 850,722 855,722 859,720 863,719 867,718 872,718 876,720 883,719 887,715 890,713 894,713 897,714 901,716 906,717 911,716 915,714 919,714 923,714 927,716 932,717 937,718 941,718 941,719 944,720 947,721 950,720 954,718 959,716 963,717 968,716 972,715 976,716 980,718 983,720 987,720 991,720 996,717 1000,717"/>
<polyline stroke="#ffbe00" points="41,709 42,706 43,696 45,691 48,688 50,689 53,691 55,694 57,699 60,702 63,704 66,704 70,704 73,704 76,705 79,706 81,700 85,699 88,698 91,699 94,700 98,701 101,702 104,701 107,698 109,694 111,688 113,686 116,686 118,688 121,690 123,692 126,695 128,696 131,697 133,697 135,704 136,708 140,709 142,709 145,712 148,713 148,696 149,714 150,719 152,720 154,718 157,716 159,715 161,712 162,696 164,690 166,689 168,691 169,702 171,712 173,717 176,720 179,723 182,723 184,721 186,715 188,707 190,694 192,691 195,688 196,681 198,674 201,672 204,671 206,675 209,677 211,679 214,678 218,677 221,677 221,679 223,676 226,674 228,671 231,669 232,669 234,670 236,672 237,671 239,674 241,678 242,686 243,696 244,701 246,701 247,712 248,722 250,724 251,722 253,715 255,712 256,715 258,715 260,714 263,713 265,712 267,711 269,706 270,699 272,693 274,691 276,690 278,691 279,696 280,702 281,709 283,713 285,715 288,716 291,717 293,720 296,722 298,720 300,715 302,711 305,710 307,711 308,716 310,720 312,722 316,720 317,716 319,712 321,709 324,706 326,705 329,705 331,706 333,706 334,712 336,720 337,726 340,727 343,727 346,725 348,719 350,714 353,709 354,705 356,698 357,693 358,699 359,707 362,709 366,709 369,710 371,712 371,702 373,697 376,694 378,691 380,688 383,686 385,684 387,681 388,671 390,666 393,665 395,665 398,668 399,672 400,686 401,673 401,671 402,689 403,702 404,709 407,712 410,714 413,714 415,710 417,699 417,692 420,691 422,694 424,692 426,689 427,684 429,683 431,688 433,688 436,686 438,685 440,683 442,688 443,689 445,694 447,701 449,706 451,708 453,708 455,705 458,702 460,698 461,696 463,699 465,702 468,704 470,706 473,706 473,712 475,702 476,699 478,693 480,697 482,700 483,702 485,698 487,695 491,694 492,691 494,684 495,679 498,678 500,676 504,675 506,674 509,674 513,675 515,676 518,679 521,678 523,679 526,681 528,679 531,681 532,686 533,692 534,698 537,701 539,704 542,709 543,712 544,711 546,704 547,699 549,696 551,692 554,690 556,697 559,697 562,697 565,697 567,697 569,689 570,679 573,678 574,674 576,669 578,669 581,672 581,673 583,674 587,672 588,679 589,689 591,696 593,701 595,703 598,703 601,700 604,695 605,689 606,679 608,669 609,661 611,655 612,661 613,667 615,669 616,674 618,678 619,684 620,694 622,704 623,709 625,702 626,694 628,684 629,677 632,674 634,674 637,673 640,674 643,676 646,677 649,676 652,675 653,669 655,668 657,671 658,674 660,679 662,682 664,686 666,691 668,697 670,702 671,705 673,702 676,704 678,702 680,696 682,688 684,691 686,691 689,690 691,687 694,688 696,690 699,691 701,694 703,695 706,696 708,701 709,707 712,712 715,713 718,711 720,706 722,699 724,692 726,693 728,695 731,697 733,697 736,699 737,707 739,715 741,714 744,711 746,711 748,707 749,699 751,686 753,683 754,686 755,699 757,711 759,714 761,715 761,715 763,713 765,709 767,702 768,691 770,686 773,681 775,677 777,676 780,677 782,679 785,678 788,676 791,675 792,674 795,676 797,677 800,679 804,678 806,677 809,677 811,679 814,680 815,684 818,685 820,684 823,686 825,688 828,688 832,688 833,683 836,683 838,680 840,677 842,675 844,675 845,679 847,676 850,676 852,678 854,681 856,687 858,691 860,693 864,696 868,697 872,697 876,695 879,693 882,691 884,688 889,688 896,688 902,688 909,688 916,688 920,687 924,688 927,688 929,687 932,688 935,689 939,691 941,691 941,692 944,692 946,692 948,689 950,686 952,688 955,689 958,690 960,692 963,696 965,695 968,698 970,693 973,693 977,693 980,692 982,697 985,696 987,695 990,698 992,697 996,696 998,694 1000,693"/>
<polyline stroke="#00ff00" points="41,725 43,727 46,729 57,729 71,729 76,728 80,725 82,719 85,714 87,707 89,702 92,696 94,689 96,683 99,676 101,670 103,665 107,665 109,669 111,672 113,674 116,679 118,685 121,690 123,692 125,692 126,689 128,679 129,669 130,660 131,649 132,637 133,631 134,632 136,642 137,640 139,636 140,634 141,643 142,655 143,670 145,653 146,633 147,623 147,623 148,656 149,689 149,712 150,722 151,715 153,712 155,711 158,710 160,710 162,707 163,710 166,711 168,711 171,710 172,704 173,698 175,697 177,697 178,701 179,691 180,684 182,681 183,689 185,699 186,706 188,699 190,696 193,697 196,699 199,704 202,706 204,707 205,722 207,725 212,727 217,728 221,728 221,728 231,728 240,728 242,722 243,720 246,715 246,712 247,661 248,660 248,610 253,610 253,639 254,640 254,698 255,706 256,713 257,719 258,724 261,725 265,726 270,725 275,725 279,725 283,727 287,728 293,728 297,726 300,723 302,721 304,717 306,720 308,721 311,720 315,720 317,725 320,728 326,728 331,725 334,722 335,699 336,673 337,670 338,669 339,653 340,637 341,623 342,610 343,610 343,623 344,640 345,656 346,673 347,697 347,719 349,720 352,720 354,721 357,722 359,725 362,726 366,726 369,725 370,712 371,699 374,700 376,706 377,714 380,717 382,719 385,720 387,721 389,725 394,727 398,727 401,727 401,724 404,722 408,720 412,720 414,717 416,711 417,707 419,708 420,715 422,720 424,720 427,723 430,720 433,718 435,717 437,719 440,720 444,720 448,724 454,724 459,725 464,725 470,727 474,725 478,727 483,725 488,725 492,727 496,725 498,720 500,719 504,720 507,722 510,725 514,724 519,725 523,725 527,726 533,726 537,725 539,722 541,719 542,704 544,689 546,688 548,692 551,691 553,688 555,681 557,676 559,668 560,663 562,655 564,653 566,656 568,663 569,673 571,683 574,689 575,696 578,701 581,706 581,704 583,702 586,702 588,705 589,712 591,719 593,721 597,723 600,725 602,724 604,719 606,718 607,722 610,726 613,728 616,727 620,727 622,722 624,720 627,725 629,726 633,724 637,723 640,720 643,717 645,714 648,711 651,708 652,709 653,719 656,720 658,722 662,724 664,723 666,726 670,725 673,723 676,722 680,721 682,720 684,717 685,725 688,727 694,726 701,725 708,726 713,725 717,725 722,725 727,724 731,722 734,720 736,719 738,720 740,723 744,724 747,725 750,725 754,724 758,722 761,720 761,720 763,723 767,725 771,726 776,725 779,723 782,723 786,724 788,728 791,727 797,727 802,725 807,725 812,724 817,723 821,722 824,721 828,720 831,721 833,724 837,723 842,725 846,723 851,722 852,719 855,714 857,710 860,706 862,706 866,706 869,705 872,704 874,702 877,700 879,699 882,700 884,702 887,706 889,709 893,710 896,710 898,707 901,703 904,702 907,703 911,706 914,705 917,704 920,702 923,701 925,699 928,698 930,701 933,702 935,706 938,708 941,709 941,709 944,710 946,712 948,712 950,717 952,719 955,718 959,716 961,713 963,711 966,709 968,706 970,711 973,711 976,710 979,712 982,708 984,708 987,706 990,705 992,706 995,704 997,702 1000,700"/>
</svg>
</body></html>
